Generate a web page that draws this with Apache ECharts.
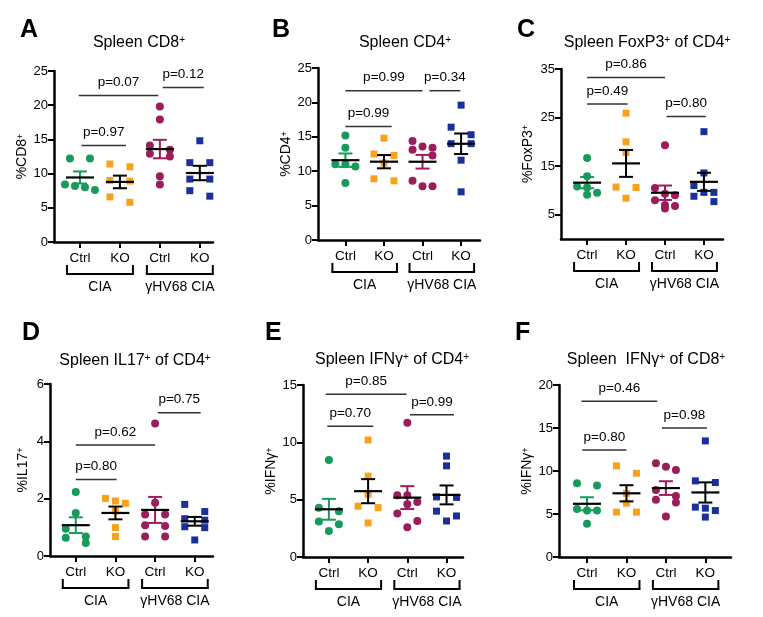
<!DOCTYPE html>
<html><head><meta charset="utf-8">
<script src="https://cdn.jsdelivr.net/npm/echarts@6/dist/echarts.min.js"></script>
<style>html,body{margin:0;padding:0;background:#fff}#c{width:763px;height:617px}</style>
</head><body><div id="c"></div>
<script>
// ---------- data ----------
const groupLabels = ['Ctrl', 'KO', 'Ctrl', 'KO'];
const cohortLabels = ['CIA', 'γHV68 CIA'];
const panelLetters = ['A', 'B', 'C', 'D', 'E', 'F'];
const panelTitles = ['Spleen CD8{s|+}', 'Spleen CD4{s|+}', 'Spleen FoxP3{s|+} of CD4{s|+}',
  'Spleen IL17{s|+} of CD4{s|+}', 'Spleen IFNγ{s|+} of CD4{s|+}', 'Spleen  IFNγ{s|+} of CD8{s|+}'];
const yNames = ['%CD8{s|+}', '%CD4{s|+}', '%FoxP3{s|+}', '%IL17{s|+}', '%IFNγ{s|+}', '%IFNγ{s|+}'];

// Panel A: CD8+
const cd8CtrlCIA = [12.2, 12.2, 7.6, 8.4, 8.0, 8.2];
const cd8KoCIA = [11.0, 11.4, 9.0, 8.9, 6.6, 5.8];
const cd8CtrlGHV = [19.8, 17.9, 13.5, 12.9, 14.1, 12.5, 9.6, 8.4];
const cd8KoGHV = [14.8, 11.6, 11.6, 9.2, 9.2, 6.7, 7.5];
const cd8P = [[0.04, 1.15, 14.1, 'p=0.97'], [-0.03, 1.96, 21.4, 'p=0.07'], [2.07, 3.1, 22.6, 'p=0.12']];
// Panel B: CD4+
const cd4CtrlCIA = [15.2, 13.4, 11.0, 11.0, 10.7, 8.3];
const cd4KoCIA = [14.8, 12.5, 12.3, 11.2, 8.6, 8.9];
const cd4CtrlGHV = [14.4, 13.4, 13.6, 13.1, 12.3, 7.8, 8.6, 7.8];
const cd4KoGHV = [19.6, 16.4, 15.3, 14.0, 14.0, 11.6, 7.0];
const cd4P = [[0.0, 1.2, 16.5, 'p=0.99'], [0.0, 2.0, 21.7, 'p=0.99'], [2.18, 2.98, 21.7, 'p=0.34']];
// Panel C: FoxP3+ of CD4+
const foxCtrlCIA = [16.7, 12.9, 10.8, 10.6, 9.5, 9.1];
const foxKoCIA = [25.9, 20.0, 17.8, 10.7, 10.6, 8.4];
const foxCtrlGHV = [19.3, 10.5, 9.3, 9.0, 8.0, 7.0, 6.3, 6.8];
const foxKoGHV = [22.1, 13.6, 11.0, 9.6, 9.6, 8.8, 7.7];
const foxP = [[0.0, 2.0, 33.25, 'p=0.86'], [0.0, 1.04, 27.8, 'p=0.49'], [2.04, 3.05, 25.2, 'p=0.80']];
// Panel D: IL17+ of CD4+
const il17CtrlCIA = [2.23, 1.5, 0.95, 0.68, 0.64, 0.45];
const il17KoCIA = [1.92, 2.01, 1.84, 1.57, 0.99, 0.68];
const il17CtrlGHV = [4.62, 1.86, 1.45, 1.45, 1.05, 1.07, 0.68, 0.68];
const il17KoGHV = [1.8, 1.55, 1.25, 1.3, 1.02, 0.99, 0.56];
const il17P = [[0.0, 1.03, 2.67, 'p=0.80'], [0.0, 2.0, 3.87, 'p=0.62'], [2.07, 3.15, 5.0, 'p=0.75']];
// Panel E: IFNγ+ of CD4+
const ifn4CtrlCIA = [8.45, 4.0, 4.3, 3.09, 2.86, 2.27];
const ifn4KoCIA = [10.2, 7.05, 5.48, 4.43, 4.31, 2.97];
const ifn4CtrlGHV = [11.7, 5.39, 5.39, 4.8, 4.6, 3.79, 3.15, 2.6];
const ifn4KoGHV = [8.8, 7.95, 5.24, 5.2, 4.0, 3.58, 3.14];
const ifn4P = [[-0.04, 1.13, 11.4, 'p=0.70'], [-0.08, 1.98, 14.2, 'p=0.85'], [2.07, 3.19, 12.4, 'p=0.99']];
// Panel F: IFNγ+ of CD8+
const ifn8CtrlCIA = [8.58, 8.31, 5.57, 5.4, 5.4, 3.86];
const ifn8KoCIA = [10.6, 9.74, 7.4, 6.26, 5.22, 5.22];
const ifn8CtrlGHV = [10.5, 10.9, 10.13, 7.1, 7.8, 6.65, 6.33, 4.71];
const ifn8KoGHV = [13.5, 8.66, 8.85, 5.8, 5.68, 5.4, 4.64];
const ifn8P = [[-0.12, 1.0, 12.45, 'p=0.80'], [-0.14, 1.78, 18.1, 'p=0.46'], [1.9, 3.04, 15.0, 'p=0.98']];

const yMaxes = [25, 25, 35, 6, 15, 20];
const yTickValues = [[0, 5, 10, 15, 20, 25], [0, 5, 10, 15, 20, 25], [5, 15, 25, 35], [0, 2, 4, 6], [0, 5, 10, 15], [0, 5, 10, 15, 20]];

const panelGroups = [
  [cd8CtrlCIA, cd8KoCIA, cd8CtrlGHV, cd8KoGHV],
  [cd4CtrlCIA, cd4KoCIA, cd4CtrlGHV, cd4KoGHV],
  [foxCtrlCIA, foxKoCIA, foxCtrlGHV, foxKoGHV],
  [il17CtrlCIA, il17KoCIA, il17CtrlGHV, il17KoGHV],
  [ifn4CtrlCIA, ifn4KoCIA, ifn4CtrlGHV, ifn4KoGHV],
  [ifn8CtrlCIA, ifn8KoCIA, ifn8CtrlGHV, ifn8KoGHV]
];
const panelP = [cd8P, cd4P, foxP, il17P, ifn4P, ifn8P];

// ---------- layout & style ----------
const layouts = [
  {left: 54, top: 71, width: 159, height: 171, xMin: -0.65, xMax: 3.33, gap: 22, letter: [20, 18], title: [139, 35], },
  {left: 318, top: 68, width: 162, height: 172, xMin: -0.71, xMax: 3.49, gap: 18, letter: [272, 18], title: [405, 35]},
  {left: 561, top: 69, width: 162, height: 170, xMin: -0.67, xMax: 3.49, gap: 26, letter: [517, 18], title: [647, 35]},
  {left: 50, top: 384, width: 163, height: 172, xMin: -0.65, xMax: 3.46, gap: 20, letter: [22, 321], title: [135, 353]},
  {left: 303, top: 385, width: 160, height: 172, xMin: -0.66, xMax: 3.42, gap: 21, letter: [265, 321], title: [392, 352]},
  {left: 559, top: 385, width: 172, height: 172, xMin: -0.71, xMax: 3.65, gap: 22, letter: [515, 321], title: [646, 352]}
];
const COLORS = ['#179a5b', '#f8a21c', '#9b1d5c', '#1a2e9c'];
const BAR_COLORS = ['#179a5b', '#000', '#9b1d5c', '#000'];
const FONT = 'Liberation Sans, Arial, Helvetica, sans-serif';
const STEP = 10, MIN_D = 8;

function mean(a) { return a.reduce((s, v) => s + v, 0) / a.length; }
function sem(a) {
  const m = mean(a);
  const v = a.reduce((s, x) => s + (x - m) * (x - m), 0) / (a.length - 1);
  return Math.sqrt(v / a.length);
}
const OFFS = {1: [0], 2: [-1, 1], 3: [-1, 0, 1], 4: [-1.5, -0.5, 0.5, 1.5], 5: [-2, -1, 0, 1, 2]};
function swarm(vals, gi, L, yMax) {
  const pxX = L.width / (L.xMax - L.xMin), pxY = L.height / yMax;
  const order = vals.map((v, k) => k).sort((a, b) => vals[b] - vals[a]);
  const rows = [];
  order.forEach(k => {
    const r = rows[rows.length - 1];
    if (r && (vals[r[0]] - vals[k]) * pxY < MIN_D) r.push(k); else rows.push([k]);
  });
  const out = [];
  rows.forEach(r => {
    const offs = OFFS[Math.min(r.length, 5)];
    r.forEach((k, j) => out.push([gi + (offs[j] || 0) * STEP / pxX, vals[k]]));
  });
  return out;
}

function makeRender(pi) {
  return function (params, api) {
    const groups = panelGroups[pi];
    const ch = [];
    const ln = (x1, y1, x2, y2, c, w) => ch.push({type: 'line', shape: {x1, y1, x2, y2}, style: {stroke: c, lineWidth: w}});
    const tx = (text, x, y, size) => ch.push({type: 'text', style: {text, x, y, align: 'center', verticalAlign: 'middle', font: size + 'px ' + FONT, fill: '#000'}});
    groups.forEach((vals, gi) => {
      const m = mean(vals), s = sem(vals);
      const c = api.coord([gi, m]), t = api.coord([gi, m + s]), b = api.coord([gi, m - s]);
      const col = BAR_COLORS[gi];
      ln(c[0], t[1], c[0], b[1], col, 2);
      ln(c[0] - 7, t[1], c[0] + 7, t[1], col, 2);
      ln(c[0] - 7, b[1], c[0] + 7, b[1], col, 2);
      ln(c[0] - 14, c[1], c[0] + 14, c[1], '#000', 2.2);
    });
    panelP[pi].forEach(p => {
      const a = api.coord([p[0], p[2]]), b = api.coord([p[1], p[2]]);
      ln(a[0], a[1], b[0], b[1], '#333', 1.5);
      tx(p[3], (a[0] + b[0]) / 2, a[1] - 13, 13.5);
    });
    cohortLabels.forEach((lab, k) => {
      const a = api.coord([2 * k, 0]), b = api.coord([2 * k + 1, 0]);
      const y0 = a[1];
      const x1 = a[0] - 13, x2 = b[0] + 13;
      ln(x1, y0 + 23, x1, y0 + 32, '#000', 2);
      ln(x2, y0 + 23, x2, y0 + 32, '#000', 2);
      ln(x1 - 1, y0 + 32, x2 + 1, y0 + 32, '#000', 2);
      tx(lab, (a[0] + b[0]) / 2, y0 + 45, 14);
    });
    return {type: 'group', children: ch};
  };
}

const grids = [], xAxes = [], yAxes = [], series = [], titles = [];
layouts.forEach((L, i) => {
  grids.push({left: L.left, top: L.top, width: L.width, height: L.height, containLabel: false, outerBoundsMode: 'none'});
  xAxes.push({
    type: 'value', gridIndex: i, min: L.xMin, max: L.xMax, splitLine: {show: false},
    axisLine: {show: true, onZero: false, lineStyle: {color: '#000', width: 2.5}},
    axisTick: {show: true, inside: false, length: 6, lineStyle: {color: '#000', width: 2}, customValues: [0, 1, 2, 3]},
    axisLabel: {show: true, customValues: [0, 1, 2, 3], formatter: v => groupLabels[Math.round(v)] || '', color: '#000', fontSize: 13.5, fontFamily: FONT, margin: 9}
  });
  yAxes.push({
    type: 'value', gridIndex: i, min: 0, max: yMaxes[i], splitLine: {show: false},
    name: yNames[i], nameLocation: 'middle', nameGap: L.gap,
    nameTextStyle: {color: '#000', fontSize: 14, fontFamily: FONT, rich: {s: {fontSize: 9, fontFamily: FONT, color: '#000', verticalAlign: 'top'}}},
    axisLine: {show: true, onZero: false, lineStyle: {color: '#000', width: 2.5}},
    axisTick: {show: true, inside: false, length: 6, lineStyle: {color: '#000', width: 2}, customValues: yTickValues[i]},
    axisLabel: {show: true, customValues: yTickValues[i], color: '#000', fontSize: 13, fontFamily: FONT, margin: 6}
  });
  panelGroups[i].forEach((vals, gi) => {
    series.push({
      type: 'scatter', xAxisIndex: i, yAxisIndex: i, silent: true, z: 2,
      symbol: gi % 2 === 0 ? 'circle' : 'rect', symbolSize: gi % 2 === 0 ? 8 : 7,
      itemStyle: {color: COLORS[gi], opacity: 1},
      data: swarm(vals, gi, L, yMaxes[i])
    });
  });
  series.push({type: 'custom', xAxisIndex: i, yAxisIndex: i, silent: true, z: 3, clip: false, data: [[0, 0]], renderItem: makeRender(i)});
  titles.push({text: panelLetters[i], left: L.letter[0], top: L.letter[1], padding: 0,
    textStyle: {fontSize: 25, fontWeight: 900, color: '#000', fontFamily: FONT}});
  titles.push({text: panelTitles[i], left: L.title[0], top: L.title[1], padding: 0, textAlign: 'center',
    textStyle: {fontSize: 16, fontWeight: 'normal', color: '#000', fontFamily: FONT,
      rich: {s: {fontSize: 10, color: '#000', fontFamily: FONT, verticalAlign: 'top'}}}});
});

const chart = echarts.init(document.getElementById('c'));
chart.setOption({
  animation: false, backgroundColor: '#fff',
  textStyle: {fontFamily: FONT},
  title: titles, grid: grids, xAxis: xAxes, yAxis: yAxes, series: series
});
</script></body></html>
